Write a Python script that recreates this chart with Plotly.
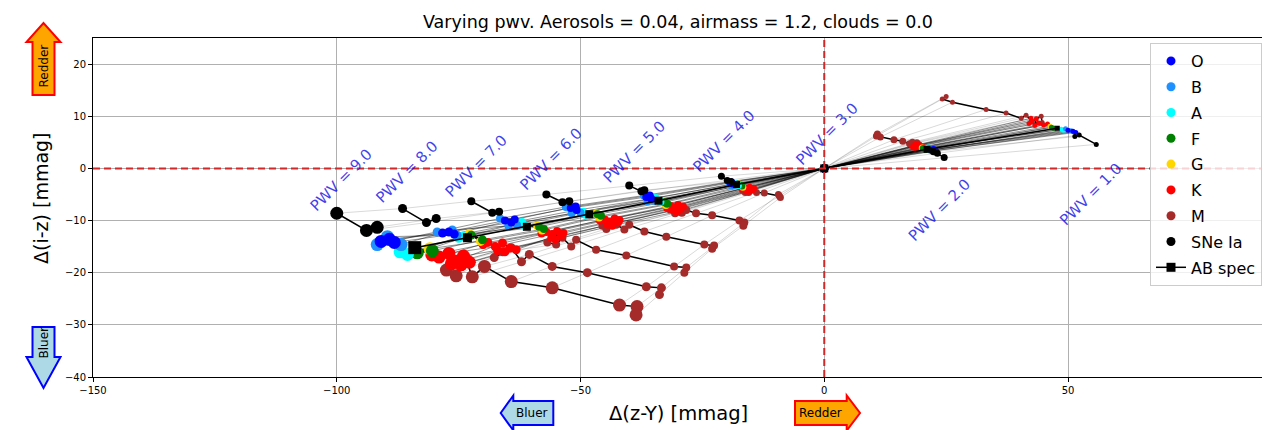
import plotly.graph_objects as go

PWV = [1, 2, 3, 4, 5, 6, 7, 8, 9]

# star positions, one row per PWV value (row 0 -> PWV 1), one column per star
O_X = [[50.0, 51.0, 51.6], [22.0, 22.4, 22.8], [0, 0, 0], [-19.3, -18.8, -19.0], [-36.5, -35.5, -35.8],
       [-52.0, -50.8, -51.0], [-65.5, -64.2, -63.5], [-78.3, -77.0, -75.9], [-90.9, -89.2, -88.2]]
O_Y = [[7.3, 7.1, 6.9], [3.5, 3.6, 3.4], [0, 0, 0], [-2.8, -3.0, -2.6], [-5.5, -5.8, -5.2],
       [-7.6, -8.0, -7.3], [-10.0, -10.4, -9.8], [-12.4, -12.2, -12.6], [-14.0, -13.6, -14.2]]
B_X = [[49.5, 50.6, 51.2], [21.6, 22.2, 22.6], [0, 0, 0], [-19.6, -18.5, -19.1], [-37.0, -35.0, -36.2],
       [-53.0, -50.0, -51.8], [-66.5, -63.0, -64.8], [-79.4, -76.3, -75.3], [-91.7, -86.8, -89.6]]
B_Y = [[7.6, 7.2, 7.0], [3.8, 3.7, 3.4], [0, 0, 0], [-2.6, -3.3, -3.4], [-5.2, -6.2, -6.3],
       [-7.4, -8.5, -8.6], [-9.6, -10.9, -11.0], [-12.2, -11.8, -12.8], [-14.6, -14.6, -13.1]]
A_X = [[48.6, 49.1], [21.4, 21.7], [0, 0], [-18.3, -17.6], [-34.6, -33.6],
       [-49.5, -49.0], [-62.0, -61.5], [-75.0, -74.2], [-87.0, -85.5]]
A_Y = [[7.5, 7.3], [3.9, 3.5], [0, 0], [-2.9, -3.3], [-5.7, -6.4],
       [-8.3, -8.9], [-10.3, -10.9], [-13.4, -13.0], [-16.0, -16.5]]
F_X = [[46.6, 47.1], [20.3, 20.9], [0, 0], [-17.2, -16.9], [-32.8, -32.2],
       [-46.5, -45.8], [-58.5, -57.5], [-72.4, -70.1], [-83.5, -80.4]]
F_Y = [[7.9, 7.7], [3.8, 3.6], [0, 0], [-3.2, -3.4], [-6.5, -6.8],
       [-8.8, -9.1], [-11.2, -11.6], [-12.8, -13.7], [-16.2, -15.8]]
G_X = [[46.3, 46.9], [20.1, 20.8], [0, 0], [-17.4, -16.7], [-33.1, -32.5],
       [-46.9, -46.2], [-58.9, -57.9], [-72.8, -70.5], [-84.0, -80.9]]
G_Y = [[8.1, 7.9], [3.9, 3.7], [0, 0], [-3.0, -3.6], [-6.3, -7.0],
       [-8.6, -9.4], [-11.0, -11.9], [-12.5, -14.0], [-15.9, -15.4]]
K_X = [[45.8, 45.0, 44.0, 43.5, 43.2, 42.5, 42.4, 42.0],
       [20.2, 19.8, 19.3, 19.2, 18.9, 18.6, 18.7, 18.3],
       [0, 0, 0, 0, 0, 0, 0, 0],
       [-16.9, -16.4, -15.8, -15.5, -15.3, -14.8, -14.5, -16.0],
       [-32.2, -31.5, -30.7, -30.2, -30.0, -29.5, -29.0, -31.0],
       [-46.0, -45.0, -44.0, -43.5, -43.0, -42.3, -42.0, -44.5],
       [-58.0, -57.0, -55.8, -55.2, -54.8, -54.0, -53.5, -56.0],
       [-70.0, -69.0, -67.5, -67.0, -66.0, -64.5, -63.2, -65.5],
       [-80.5, -79.0, -77.0, -76.5, -75.5, -74.0, -74.5, -72.8]]
K_Y = [[8.5, 8.3, 8.7, 9.5, 8.2, 9.0, 9.6, 8.6],
       [4.0, 4.0, 4.2, 4.45, 3.9, 4.3, 4.45, 4.1],
       [0, 0, 0, 0, 0, 0, 0, 0],
       [-3.9, -3.7, -3.9, -4.4, -3.6, -4.1, -3.8, -4.3],
       [-7.6, -7.2, -7.5, -8.3, -7.0, -7.8, -7.3, -8.0],
       [-10.0, -9.8, -10.2, -11.0, -9.6, -10.4, -9.9, -10.8],
       [-12.5, -12.2, -12.6, -13.6, -12.0, -13.0, -12.4, -13.3],
       [-14.6, -14.2, -15.0, -15.8, -14.3, -15.3, -15.6, -16.0],
       [-16.6, -17.0, -16.3, -18.3, -17.8, -16.8, -18.5, -18.0]]
M_X = [[44.7, 44.5, 42.7, 41.4, 40.4, 37.3, 33.2, 26.3, 24.2, 25.0],
       [19.5, 19.0, 18.5, 18.1, 17.5, 16.1, 14.3, 11.5, 10.7, 10.9],
       [0, 0, 0, 0, 0, 0, 0, 0, 0, 0],
       [-16.7, -16.2, -15.8, -15.5, -15.0, -13.9, -12.3, -9.2, -9.4, -9.0],
       [-31.6, -30.6, -29.7, -29.2, -28.3, -26.3, -23.0, -17.4, -16.4, -16.6],
       [-45.5, -44.7, -42.7, -41.0, -40.0, -36.9, -32.4, -24.6, -22.6, -23.0],
       [-56.8, -55.0, -53.7, -51.9, -50.9, -46.8, -40.6, -30.8, -28.3, -28.7],
       [-67.7, -66.0, -64.2, -62.1, -60.5, -55.8, -48.6, -36.5, -33.4, -33.8],
       [-77.5, -75.5, -73.4, -72.2, -69.7, -64.2, -55.8, -42.0, -38.4, -38.6]]
M_Y = [[8.8, 10.0, 9.0, 10.2, 9.6, 10.6, 11.3, 12.7, 13.3, 13.8],
       [4.5, 4.9, 4.4, 5.0, 4.7, 5.2, 5.5, 6.0, 6.2, 6.6],
       [0, 0, 0, 0, 0, 0, 0, 0, 0, 0],
       [-4.2, -4.6, -3.9, -4.6, -4.2, -4.6, -4.7, -5.3, -5.0, -5.6],
       [-7.9, -8.6, -7.5, -8.5, -8.0, -8.6, -9.0, -10.0, -10.4, -11.0],
       [-11.0, -11.6, -10.8, -11.7, -10.8, -12.1, -13.1, -14.6, -14.8, -15.4],
       [-14.2, -14.6, -13.3, -15.0, -13.7, -15.6, -16.7, -18.8, -19.0, -20.0],
       [-17.1, -16.0, -15.2, -17.9, -16.5, -18.8, -20.0, -22.7, -22.9, -24.2],
       [-19.5, -20.6, -17.7, -20.8, -18.8, -21.7, -22.9, -26.2, -26.5, -28.1]]
SN_X = [[55.8, 52.3, 51.4], [24.6, 23.2, 22.4], [0, 0, 0], [-21.1, -19.9, -19.1], [-40.0, -37.5, -36.9],
        [-57.0, -53.7, -52.3], [-72.4, -68.1, -66.7], [-86.5, -81.6, -79.6], [-100.0, -93.9, -91.7]]
SN_Y = [[4.6, 6.4, 6.1], [2.1, 2.9, 3.2], [0, 0, 0], [-1.5, -2.3, -2.5], [-3.3, -4.4, -4.2],
        [-5.0, -6.5, -6.3], [-6.3, -8.5, -8.3], [-7.7, -10.4, -9.6], [-8.6, -11.9, -11.3]]
AB_X = [47.8, 21.1, 0.0, -18.0, -34.0, -48.2, -61.0, -73.2, -84.0]
AB_Y = [7.7, 3.65, 0.0, -3.1, -6.2, -8.8, -11.2, -13.3, -15.2]

LABEL_X = [54.8, 23.6, 0.6, -20.5, -39.0, -56.0, -71.4, -85.6, -99.1]
LABEL_Y = [-5.0, -7.9, 6.6, 5.2, 3.2, 1.8, 0.5, -0.7, -2.2]

TYPES = ["O", "B", "A", "F", "G", "K", "M"]
TYPE_X = [O_X, B_X, A_X, F_X, G_X, K_X, M_X]
TYPE_Y = [O_Y, B_Y, A_Y, F_Y, G_Y, K_Y, M_Y]
COLORS = ["#0000ff", "#1e90ff", "#00ffff", "#008000", "#ffd700", "#ff0000", "#a52a2a"]
TRACK_ALPHA = [0.42, 0.42, 0.42, 0.42, 0.42, 0.42, 0.15]
SIZES = [5, 7, 8, 7, 8, 8, 8, 9, 13]

X_TICKS = [-150, -100, -50, 0, 50]
Y_TICKS = [-40, -30, -20, -10, 0, 10, 20]

FONT = "DejaVu Sans"
fig = go.Figure()

# thin gray trajectories of every object across PWV
tracks = list(zip(TYPE_X, TYPE_Y, TRACK_ALPHA)) + [(SN_X, SN_Y, 0.15)]
for tx, ty, a in tracks:
    for i in range(len(tx[0])):
        fig.add_trace(go.Scatter(
            x=[tx[p][i] for p in range(len(PWV))], y=[ty[p][i] for p in range(len(PWV))],
            mode="lines", line=dict(color=f"rgba(0,0,0,{a})", width=1),
            showlegend=False, hoverinfo="skip"))

# black line joining the stellar sequence at each PWV, and the SNe at each PWV
for p in range(len(PWV)):
    xs, ys = [], []
    for tx, ty in zip(TYPE_X, TYPE_Y):
        xs += tx[p]
        ys += ty[p]
    fig.add_trace(go.Scatter(x=xs, y=ys, mode="lines", line=dict(color="black", width=1.5),
                             showlegend=False, hoverinfo="skip"))
    fig.add_trace(go.Scatter(x=SN_X[p], y=SN_Y[p], mode="lines", line=dict(color="black", width=1.5),
                             showlegend=False, hoverinfo="skip"))

# markers, drawn from M back to O
for k in reversed(range(len(TYPES))):
    xs, ys, ss = [], [], []
    for p in range(len(PWV)):
        xs += TYPE_X[k][p]
        ys += TYPE_Y[k][p]
        ss += [SIZES[p]] * len(TYPE_X[k][p])
    fig.add_trace(go.Scatter(x=xs, y=ys, mode="markers",
                             marker=dict(color=COLORS[k], size=ss, opacity=1, line=dict(width=0)),
                             showlegend=False, name=TYPES[k]))
xs, ys, ss = [], [], []
for p in range(len(PWV)):
    xs += SN_X[p]
    ys += SN_Y[p]
    ss += [SIZES[p]] * len(SN_X[p])
fig.add_trace(go.Scatter(x=xs, y=ys, mode="markers",
                         marker=dict(color="black", size=ss, opacity=1, line=dict(width=0)),
                         showlegend=False, name="SNe Ia"))
fig.add_trace(go.Scatter(x=AB_X, y=AB_Y, mode="lines+markers", line=dict(color="black", width=1.5),
                         marker=dict(symbol="square", color="black", size=SIZES, opacity=1, line=dict(width=0)),
                         showlegend=False, name="AB spec"))

# legend entries
for k in range(len(TYPES)):
    fig.add_trace(go.Scatter(x=[None], y=[None], mode="markers", name=TYPES[k], legendgroup=TYPES[k],
                             marker=dict(color=COLORS[k], size=9)))
fig.add_trace(go.Scatter(x=[None], y=[None], mode="markers", name="SNe Ia", legendgroup="SNe",
                         marker=dict(color="black", size=9)))
fig.add_trace(go.Scatter(x=[None], y=[None], mode="lines+markers", name="AB spec", legendgroup="AB",
                         line=dict(color="black", width=1.5), marker=dict(symbol="square", color="black", size=9)))

# plot area in screen pixels (page has an 8 px offset)
SL, ST, W, H = 93, 38, 1170, 339
OFF = 8


def PX(px):
    return (px - SL) / W


def PY(py):
    return (ST + H - py) / H


def path(pts):
    return "M " + " L ".join(f"{PX(a):.5f},{PY(b):.5f}" for a, b in pts) + " Z"


shapes = [
    dict(type="line", xref="x", yref="paper", x0=0, x1=0, y0=0, y1=1,
         line=dict(color="#d62728", width=2, dash="7px,4px"), layer="above"),
    dict(type="line", xref="paper", yref="y", x0=0, x1=1, y0=0, y1=0,
         line=dict(color="#d62728", width=2, dash="7px,4px"), layer="above"),
    dict(type="path", xref="paper", yref="paper",
         path=path([(32.5, 95), (32.5, 42), (26.5, 42), (43.5, 23), (60.5, 42), (54.5, 42), (54.5, 95)]),
         fillcolor="#ffa500", line=dict(color="#ff0000", width=2)),
    dict(type="path", xref="paper", yref="paper",
         path=path([(32.5, 327), (54.5, 327), (54.5, 357), (60.5, 357), (43.5, 388), (26.5, 357), (32.5, 357)]),
         fillcolor="#add8e6", line=dict(color="#0000ff", width=2)),
    dict(type="path", xref="paper", yref="paper",
         path=path([(500.7, 413), (513.3, 395.5), (513.3, 401), (553.3, 401), (553.3, 425), (513.3, 425),
                    (513.3, 430.5)]),
         fillcolor="#add8e6", line=dict(color="#0000ff", width=2)),
    dict(type="path", xref="paper", yref="paper",
         path=path([(795, 401), (846.7, 401), (846.7, 395.5), (860, 413), (846.7, 430.5), (846.7, 425),
                    (795, 425)]),
         fillcolor="#ffa500", line=dict(color="#ff0000", width=2)),
]

annotations = []
for p in range(len(PWV)):
    annotations.append(dict(x=LABEL_X[p], y=LABEL_Y[p], xref="x", yref="y", text=f"PWV = {PWV[p]:.1f}",
                            textangle=-45, showarrow=False, xanchor="center", yanchor="middle",
                            font=dict(family=FONT, size=15, color="rgba(20,20,230,0.82)")))


def label(x, y, text, size, angle=0):
    return dict(x=x, y=y, xref="paper", yref="paper", text=text, textangle=angle, showarrow=False,
                xanchor="center", yanchor="middle", font=dict(family=FONT, size=size, color="black"))


annotations += [
    label(PX(43.5), PY(66), "Redder", 12, -90),
    label(PX(43.5), PY(343), "Bluer", 12, -90),
    label(PX(532), PY(413), "Bluer", 12),
    label(PX(820), PY(413), "Redder", 12),
    label(0.5, PY(413), "Δ(z-Y) [mmag]", 19.5),
    label(PX(41), PY(198), "Δ(i-z) [mmag]", 19, -90),
]

axis_common = dict(showgrid=True, gridcolor="#b0b0b0", gridwidth=1, zeroline=False, showline=True,
                   linecolor="black", linewidth=1, mirror=True, ticks="outside", ticklen=4, tickcolor="black",
                   tickfont=dict(family=FONT, size=10, color="black"))
fig.update_layout(
    width=1270, height=430,
    margin=dict(l=SL - OFF, r=1270 - (SL - OFF) - W, t=ST - OFF, b=430 - (ST - OFF) - H, autoexpand=False),
    paper_bgcolor="white", plot_bgcolor="white",
    font=dict(family=FONT, color="black"),
    title=dict(text="Varying pwv. Aerosols = 0.04, airmass = 1.2, clouds = 0.0", x=0.5, xref="paper",
               y=1 - (22 - OFF) / 430, yref="container", yanchor="middle", xanchor="center",
               font=dict(family=FONT, size=17.5, color="black")),
    xaxis=dict(range=[-150, 90], tickvals=X_TICKS, ticktext=[str(v).replace("-", "\u2212") for v in X_TICKS],
               **axis_common),
    yaxis=dict(range=[-40, 25], tickvals=Y_TICKS, ticktext=[str(v).replace("-", "\u2212") for v in Y_TICKS],
               **axis_common),
    legend=dict(x=PX(1262), xanchor="right", y=PY(43), yanchor="top", bgcolor="rgba(255,255,255,0.8)",
                bordercolor="#cccccc", borderwidth=1, font=dict(family=FONT, size=16, color="black"),
                tracegroupgap=2),
    shapes=shapes, annotations=annotations, showlegend=True,
)

fig.write_html("out.html", config={"displayModeBar": False})
